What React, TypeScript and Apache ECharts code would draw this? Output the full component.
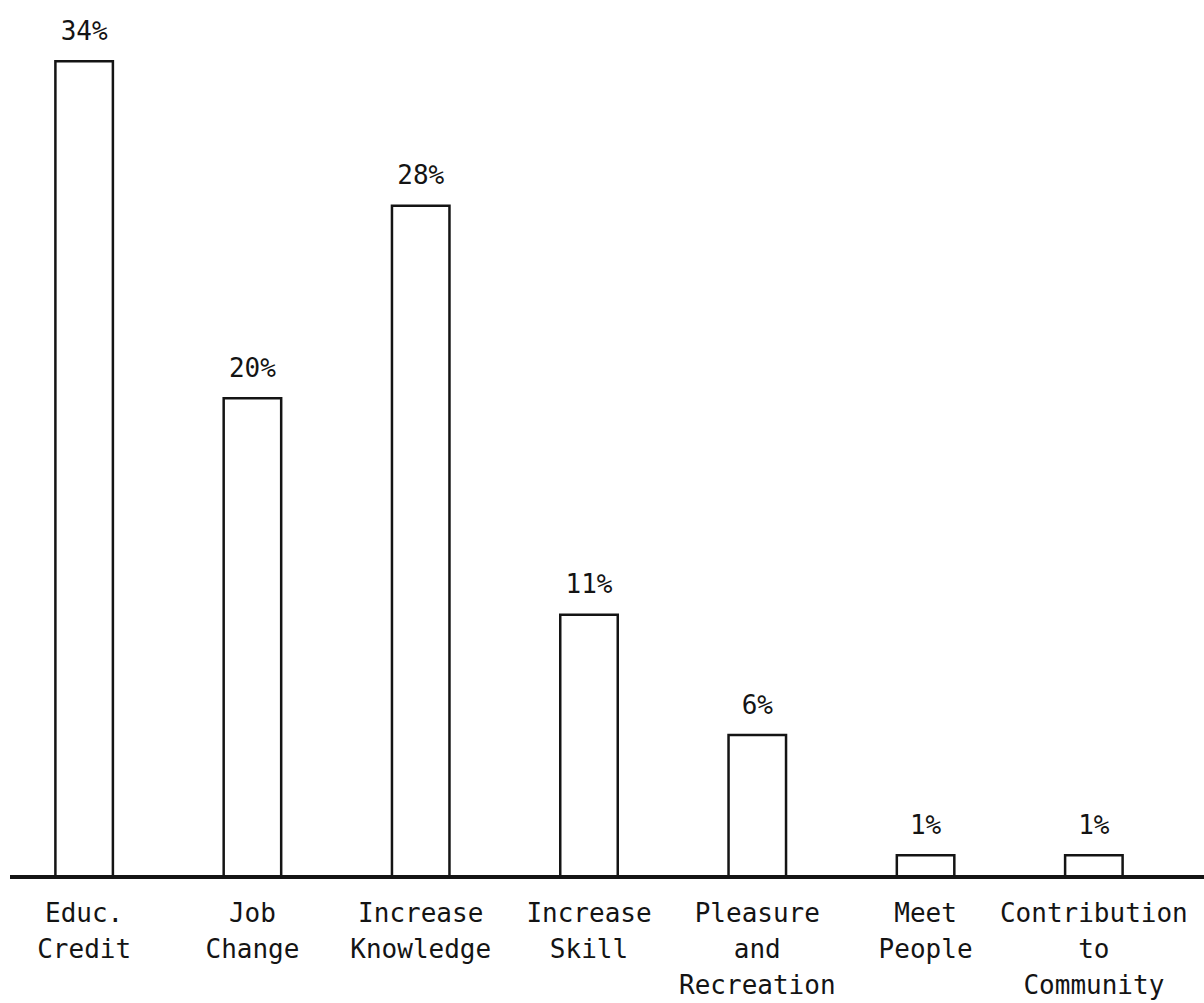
import React, { useEffect, useRef } from "react";
import * as echarts from "echarts";

// Reasons for enrolling, share of respondents (%)
const categories = [
  "Educ.\nCredit",
  "Job\nChange",
  "Increase\nKnowledge",
  "Increase\nSkill",
  "Pleasure\nand\nRecreation",
  "Meet\nPeople",
  "Contribution\nto\nCommunity",
];
const percentages = [34, 20, 28, 11, 6, 1, 1];

const FONT = "'DejaVu Sans Mono', monospace";
const INK = "#141414";

export default function App() {
  const ref = useRef<HTMLDivElement>(null);

  useEffect(() => {
    if (!ref.current) return;
    const chart = echarts.init(ref.current, undefined, { renderer: "svg" });
    chart.setOption({
      animation: false,
      backgroundColor: "#ffffff",
      grid: { left: 0, top: 12, width: 1178, bottom: 125, containLabel: false },
      xAxis: {
        type: "category",
        data: categories,
        axisLine: { show: false },
        axisTick: { show: false },
        axisLabel: {
          interval: 0,
          margin: 17,
          color: INK,
          fontFamily: FONT,
          fontSize: 26,
          lineHeight: 36,
          verticalAlign: "top",
        },
      },
      yAxis: {
        type: "value",
        min: 0,
        max: 36,
        show: false,
        splitLine: { show: false },
      },
      graphic: [
        {
          type: "line",
          shape: { x1: 10, y1: 877, x2: 1204, y2: 877 },
          style: { stroke: INK, lineWidth: 4 },
          z: 10,
        },
      ],
      series: [
        {
          type: "bar",
          data: percentages,
          barWidth: 60,
          itemStyle: { color: "#ffffff", borderColor: INK, borderWidth: 2.5 },
          label: {
            show: true,
            position: "top",
            distance: 16,
            formatter: "{c}%",
            color: INK,
            fontFamily: FONT,
            fontSize: 26,
          },
        },
      ],
    });
    return () => chart.dispose();
  }, []);

  return (
    <div
      ref={ref}
      style={{ position: "absolute", left: 0, top: 0, width: 1204, height: 1003 }}
    />
  );
}
